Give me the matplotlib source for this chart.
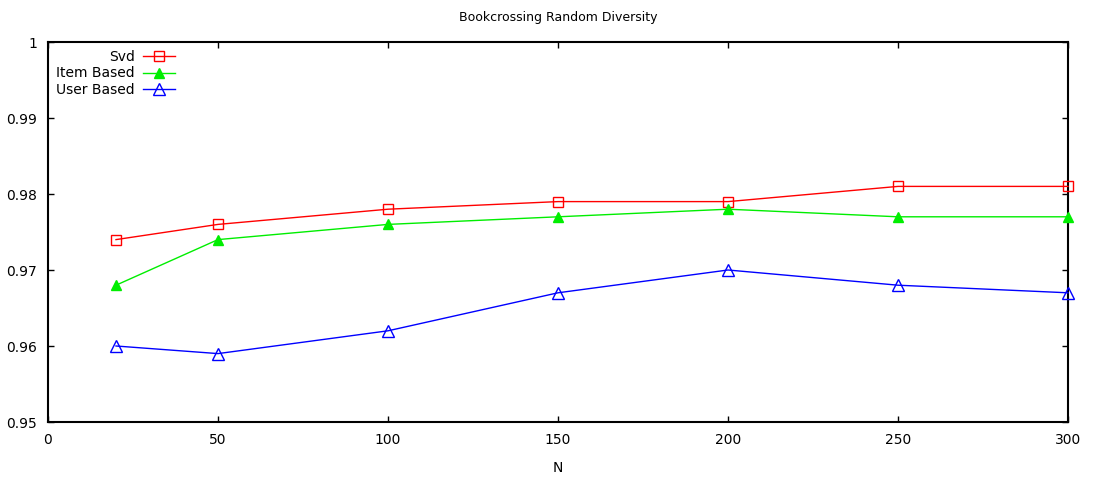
import matplotlib
matplotlib.use('Agg')
import matplotlib.pyplot as plt

n = [20, 50, 100, 150, 200, 250, 300]
svd = [0.974, 0.976, 0.978, 0.979, 0.979, 0.981, 0.981]
item_based = [0.968, 0.974, 0.976, 0.977, 0.978, 0.977, 0.977]
user_based = [0.960, 0.959, 0.962, 0.967, 0.970, 0.968, 0.967]

plt.rcParams['font.family'] = ['DejaVu Sans']
plt.rcParams['font.size'] = 10

fig = plt.figure(figsize=(10.95, 4.79), dpi=100)
ax = fig.add_axes([48 / 1095, 1 - 422 / 479, 1020 / 1095, 380 / 479])

ax.plot(n, svd, color='red', lw=1, marker='s', ms=7, mfc='none', mew=1,
        label='Svd', clip_on=False, zorder=3)
ax.plot(n, item_based, color='#00ee00', lw=1, marker='^', ms=7.5, mfc='#00ee00',
        mec='#00ee00', label='Item Based', clip_on=False, zorder=3)
ax.plot(n, user_based, color='blue', lw=1, marker='^', ms=8, mfc='none', mew=1,
        label='User Based', clip_on=False, zorder=3)

ax.set_xlim(0, 300)
ax.set_ylim(0.95, 1.0)
ax.set_xticks([0, 50, 100, 150, 200, 250, 300])
ax.set_yticks([0.95, 0.96, 0.97, 0.98, 0.99, 1.0])
ax.set_yticklabels(['0.95', '0.96', '0.97', '0.98', '0.99', '1'])
ax.tick_params(direction='in', top=True, right=True, length=4, width=1, pad=8)
for s in ax.spines.values():
    s.set_linewidth(1.5)

ax.set_xlabel('N', labelpad=10)
ax.set_title('Bookcrossing Random Diversity', fontsize=9, pad=15)

ax.legend(loc='upper left', frameon=False, markerfirst=False, handlelength=2.3,
          labelspacing=0.15, borderaxespad=0.2, handletextpad=0.6)

fig.savefig('out.png', dpi=100)
